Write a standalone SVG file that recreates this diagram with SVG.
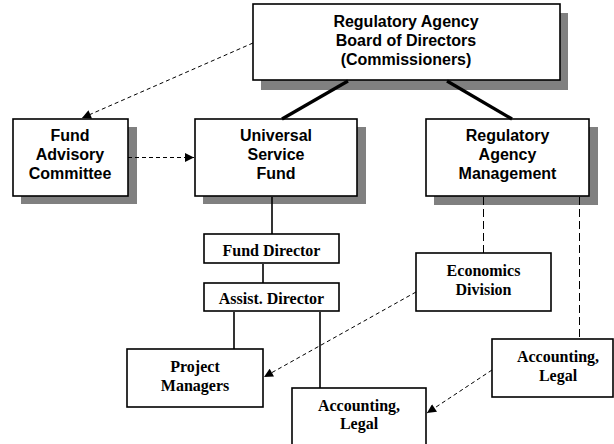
<svg xmlns="http://www.w3.org/2000/svg" width="614" height="444" viewBox="0 0 614 444">
  <style>
    .box { fill: #ffffff; stroke: #000000; stroke-width: 1.6; }
    .shadow { fill: #808080; stroke: none; }
    .sans { font-family: "Liberation Sans", Arial, sans-serif; font-weight: bold; font-size: 16px; fill: #000000; text-anchor: middle; }
    .serif { font-family: "Liberation Serif", "Times New Roman", serif; font-weight: bold; font-size: 16px; fill: #000000; text-anchor: middle; }
    .thick { stroke: #000000; stroke-width: 3.2; fill: none; }
    .solid { stroke: #000000; stroke-width: 1.6; fill: none; }
    .dash { stroke: #000000; stroke-width: 1; stroke-dasharray: 4 3; fill: none; }
    .longdash { stroke: #000000; stroke-width: 1; stroke-dasharray: 8 4; fill: none; }
  </style>
  <defs>
    <marker id="arrow" viewBox="0 0 10 10" refX="10" refY="5" markerWidth="10" markerHeight="9" markerUnits="userSpaceOnUse" orient="auto">
      <path d="M0,0 L10,5 L0,10 Z" fill="#000000"/>
    </marker>
  </defs>

  <!-- board -->
  <g id="board">
    <rect class="shadow" x="261" y="13" width="307" height="77"/>
    <rect class="box" x="253" y="4" width="307" height="76"/>
    <text class="sans" x="406" y="27">Regulatory Agency</text>
    <text class="sans" x="406" y="46">Board of Directors</text>
    <text class="sans" x="406" y="65">(Commissioners)</text>
  </g>

  <g id="fund-advisory">
    <rect class="shadow" x="21" y="127" width="116" height="77"/>
    <rect class="box" x="13" y="119" width="115" height="77"/>
    <text class="sans" x="70" y="141">Fund</text>
    <text class="sans" x="70" y="160">Advisory</text>
    <text class="sans" x="70" y="179">Committee</text>
  </g>

  <g id="universal-service-fund">
    <rect class="shadow" x="203" y="127" width="163" height="77"/>
    <rect class="box" x="195" y="119" width="162" height="77"/>
    <text class="sans" x="276" y="141">Universal</text>
    <text class="sans" x="276" y="160">Service</text>
    <text class="sans" x="276" y="179">Fund</text>
  </g>

  <g id="agency-management">
    <rect class="shadow" x="434" y="127" width="164" height="78"/>
    <rect class="box" x="426" y="119" width="163" height="77"/>
    <text class="sans" x="507.5" y="141">Regulatory</text>
    <text class="sans" x="507.5" y="160">Agency</text>
    <text class="sans" x="507.5" y="179">Management</text>
  </g>

  <g id="fund-director">
    <rect class="box" x="204" y="234" width="135" height="29"/>
    <text class="serif" x="271.5" y="256">Fund Director</text>
  </g>

  <g id="assist-director">
    <rect class="box" x="204" y="283" width="135" height="28"/>
    <text class="serif" x="271.5" y="304">Assist. Director</text>
  </g>

  <g id="economics-division">
    <rect class="box" x="416" y="253" width="135" height="58"/>
    <text class="serif" x="483.5" y="276">Economics</text>
    <text class="serif" x="483.5" y="295">Division</text>
  </g>

  <g id="project-managers">
    <rect class="box" x="127" y="349" width="136" height="58"/>
    <text class="serif" x="195" y="372">Project</text>
    <text class="serif" x="195" y="391">Managers</text>
  </g>

  <g id="accounting-legal-agency">
    <rect class="box" x="492" y="339" width="121" height="58"/>
    <text class="serif" x="558" y="362">Accounting,</text>
    <text class="serif" x="558" y="381">Legal</text>
  </g>

  <g id="accounting-legal-fund">
    <rect class="box" x="292" y="388" width="134" height="62"/>
    <text class="serif" x="359" y="411">Accounting,</text>
    <text class="serif" x="359" y="429">Legal</text>
  </g>

  <!-- connectors, drawn last so they run over the drop shadows -->
  <g id="connectors">
    <line class="thick" x1="348" y1="81" x2="282" y2="119"/>
    <line class="thick" x1="447" y1="81" x2="512" y2="119"/>
    <line class="dash" x1="253" y1="43" x2="82" y2="118" marker-end="url(#arrow)"/>
    <line class="dash" x1="128" y1="157.5" x2="194" y2="157.5" marker-end="url(#arrow)"/>
    <line class="solid" x1="272" y1="197" x2="272" y2="234"/>
    <line class="solid" x1="263" y1="264" x2="263" y2="283"/>
    <line class="solid" x1="234" y1="312" x2="234" y2="349"/>
    <line class="solid" x1="320" y1="312" x2="320" y2="388"/>
    <line class="longdash" x1="483.5" y1="197" x2="483.5" y2="253"/>
    <line class="longdash" x1="579.5" y1="197" x2="579.5" y2="339"/>
    <line class="dash" x1="416" y1="292" x2="264" y2="377" marker-end="url(#arrow)"/>
    <line class="dash" x1="492" y1="370" x2="427" y2="413" marker-end="url(#arrow)"/>
  </g>
</svg>
